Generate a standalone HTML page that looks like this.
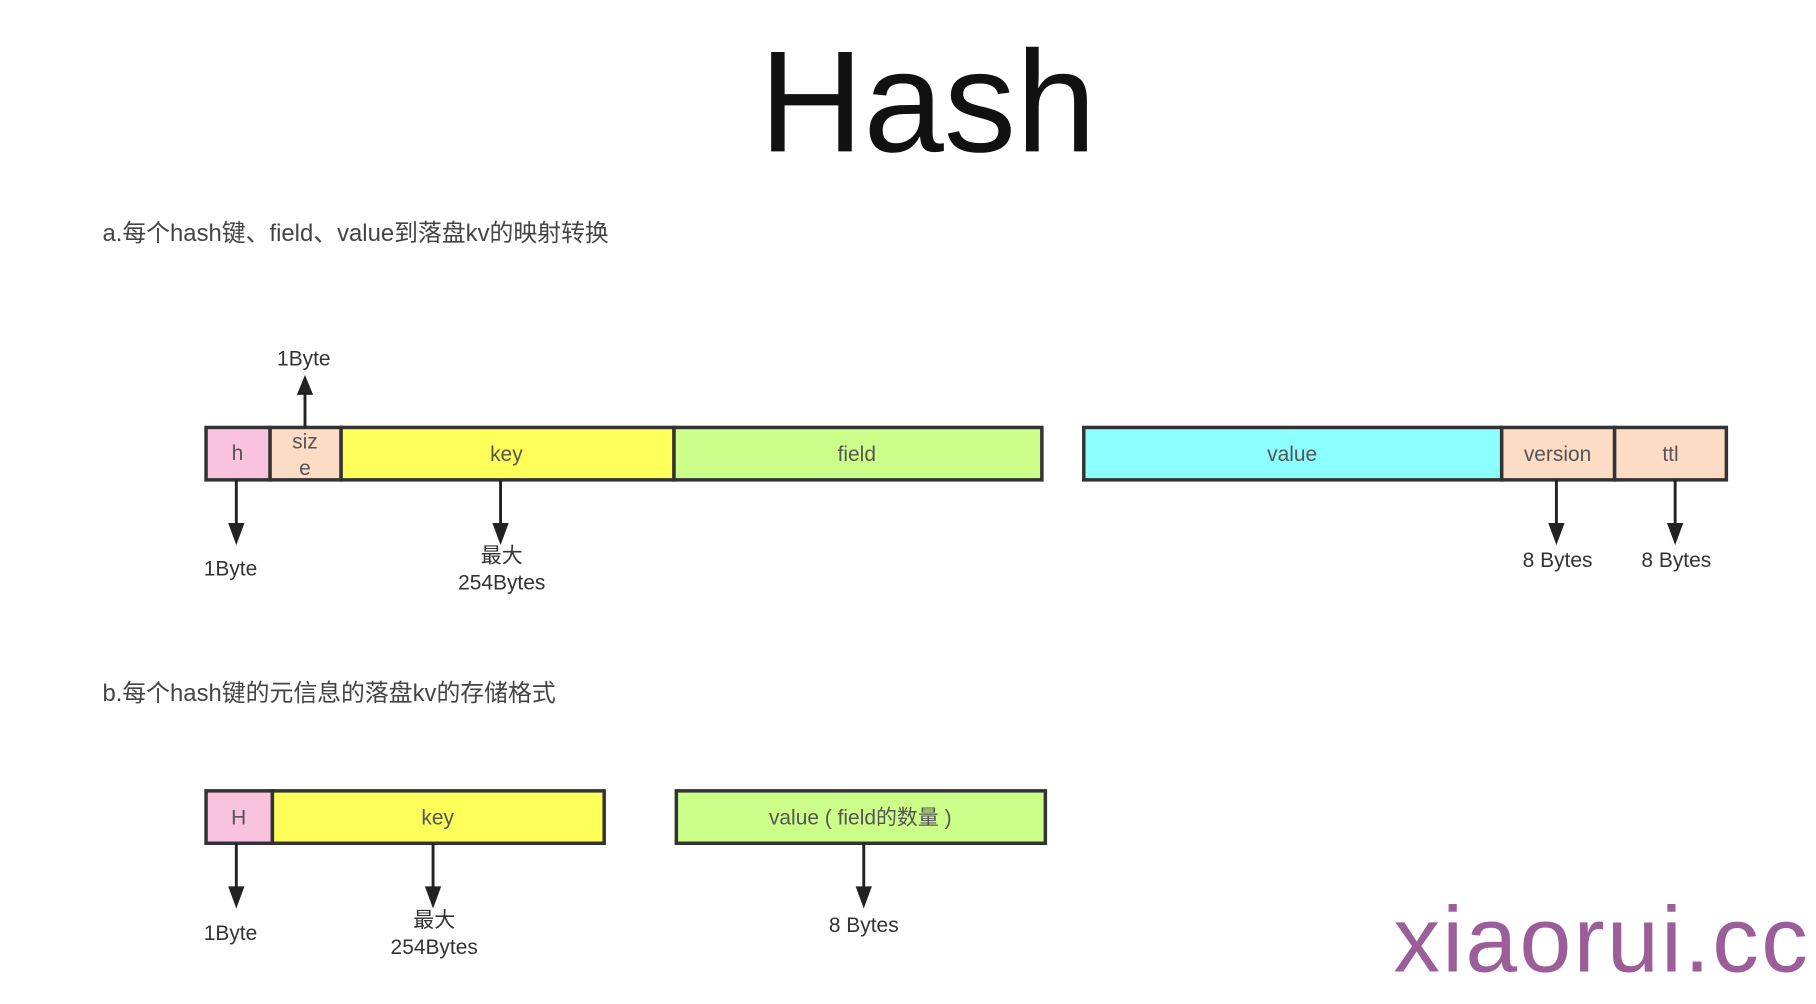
<!DOCTYPE html>
<html><head><meta charset="utf-8"><style>
html,body{margin:0;padding:0;background:#fff;}
svg{display:block;}
text{font-family:"Liberation Sans","Noto Sans CJK SC",sans-serif;}
</style></head><body>
<svg width="1816" height="1004" viewBox="0 0 1560 862" preserveAspectRatio="none" xmlns="http://www.w3.org/2000/svg">
<text x="797" y="130" font-size="124" text-anchor="middle" fill="#111">Hash</text>
<text x="88" y="207" font-size="20.5" fill="#444">a.每个hash键、field、value到落盘kv的映射转换</text>
<text x="88" y="602" font-size="20.5" fill="#444">b.每个hash键的元信息的落盘kv的存储格式</text>
<g stroke="#333" stroke-width="3">
<rect x="177" y="367" width="55" height="45" fill="#f9c3e0"/>
<rect x="232" y="367" width="61" height="45" fill="#fcdcc5"/>
<rect x="293" y="367" width="286" height="45" fill="#ffff5a"/>
<rect x="579" y="367" width="316" height="45" fill="#ccff8a"/>
<rect x="931" y="367" width="359" height="45" fill="#8cffff"/>
<rect x="1290" y="367" width="97" height="45" fill="#fcdcc5"/>
<rect x="1387" y="367" width="96" height="45" fill="#fcdcc5"/>
<rect x="177" y="679" width="57" height="45" fill="#f9c3e0"/>
<rect x="234" y="679" width="285" height="45" fill="#ffff5a"/>
<rect x="581" y="679" width="317" height="45" fill="#ccff8a"/>
</g>
<g font-size="18" fill="#555" text-anchor="middle">
<text x="204" y="395">h</text>
<text x="262" y="385">siz</text>
<text x="262" y="408">e</text>
<text x="435" y="396">key</text>
<text x="736" y="396">field</text>
<text x="1110" y="396">value</text>
<text x="1338" y="396">version</text>
<text x="1435" y="396">ttl</text>
<text x="205" y="708">H</text>
<text x="376" y="708">key</text>
<text x="739" y="708">value ( field的数量 )</text>
</g>
<g stroke="#222" stroke-width="2.5">
<line x1="262" y1="367" x2="262" y2="337"/>
<line x1="203" y1="412" x2="203" y2="454"/>
<line x1="430" y1="412" x2="430" y2="454"/>
<line x1="1337" y1="412" x2="1337" y2="454"/>
<line x1="1439" y1="412" x2="1439" y2="454"/>
<line x1="203" y1="724" x2="203" y2="766"/>
<line x1="372" y1="724" x2="372" y2="766"/>
<line x1="742" y1="724" x2="742" y2="766"/>
</g>
<g fill="#222">
<polygon points="255,339 269,339 262,322"/>
<polygon points="196,449 210,449 203,468"/>
<polygon points="423,449 437,449 430,468"/>
<polygon points="1330,449 1344,449 1337,468"/>
<polygon points="1432,449 1446,449 1439,468"/>
<polygon points="196,761 210,761 203,780"/>
<polygon points="365,761 379,761 372,780"/>
<polygon points="735,761 749,761 742,780"/>
</g>
<g font-size="18" fill="#333" text-anchor="middle">
<text x="261" y="314">1Byte</text>
<text x="198" y="494">1Byte</text>
<text x="431" y="483">最大</text>
<text x="431" y="506">254Bytes</text>
<text x="1338" y="487">8 Bytes</text>
<text x="1440" y="487">8 Bytes</text>
<text x="198" y="807">1Byte</text>
<text x="373" y="796">最大</text>
<text x="373" y="819">254Bytes</text>
<text x="742" y="800">8 Bytes</text>
</g>
<text x="1376" y="834" font-size="80" fill="#9b5e9b" text-anchor="middle" style="letter-spacing:2px">xiaorui.cc</text>
</svg>
</body></html>
